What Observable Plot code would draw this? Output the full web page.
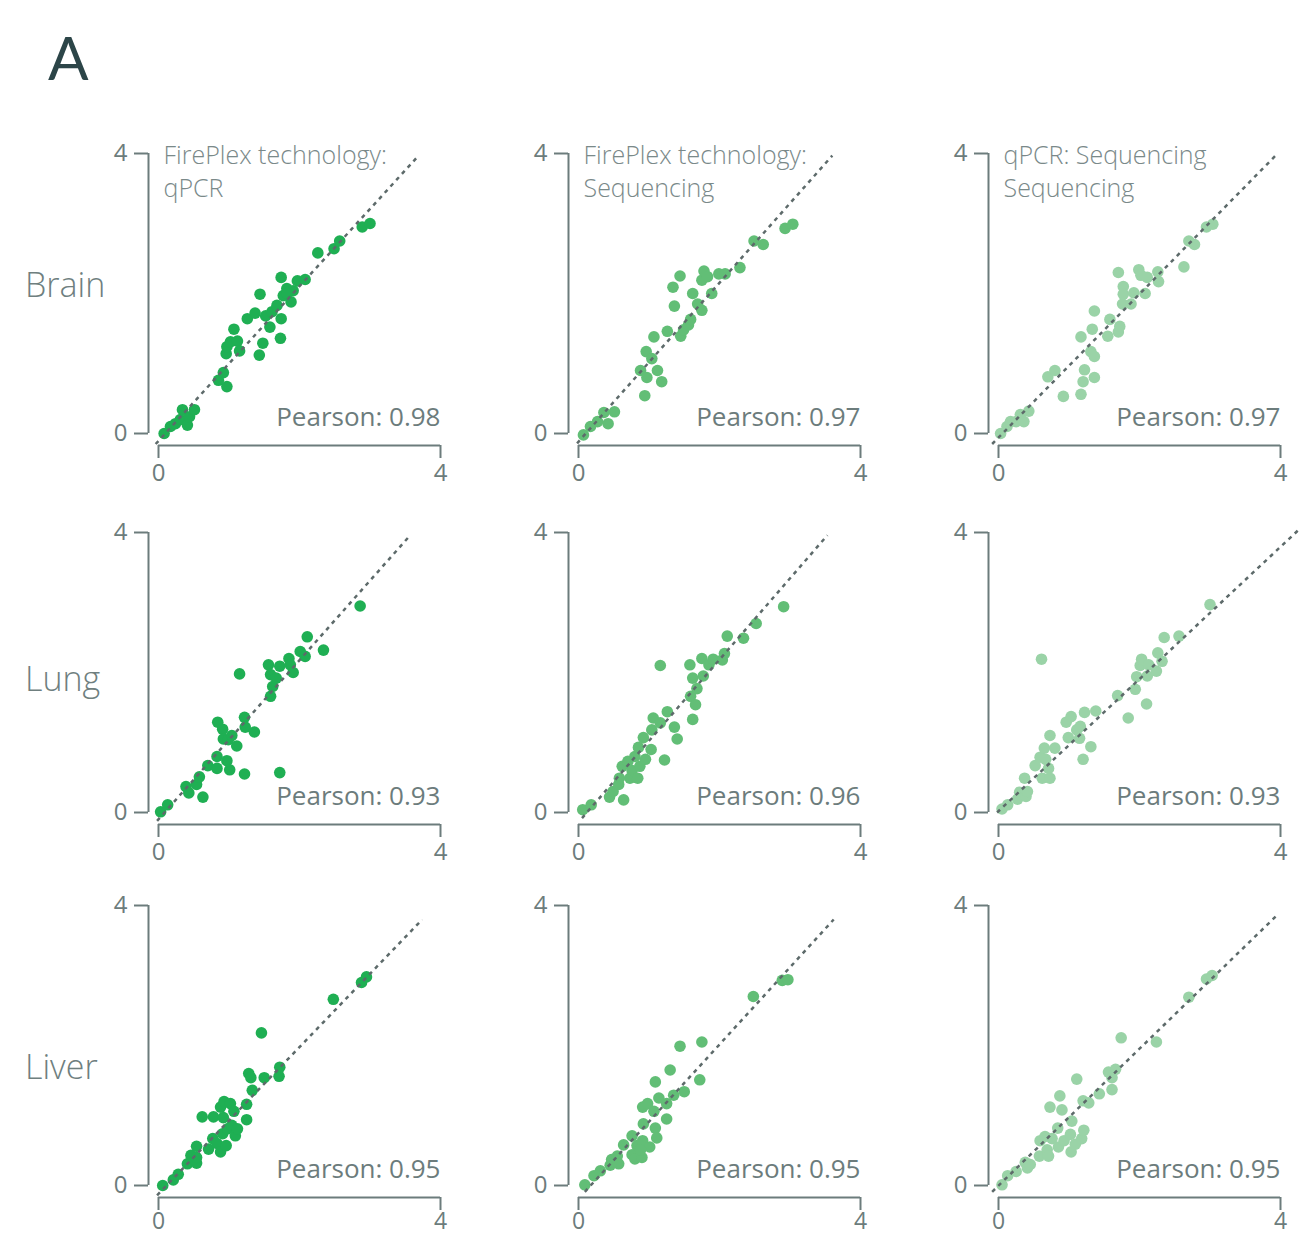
<!DOCTYPE html>
<html><head><meta charset="utf-8">
<script src="https://cdn.jsdelivr.net/npm/d3@7"></script>
<script src="https://cdn.jsdelivr.net/npm/@observablehq/plot@0.6"></script>
<style>
html,body{margin:0;padding:0;background:#fff;overflow:hidden}
#page{position:relative;width:1301px;height:1237px;overflow:hidden;font-family:"Open Sans",Lato,sans-serif}
.panel{position:absolute;width:385px;height:380px}
.panel svg{overflow:visible;max-width:none}
.rowlabel{position:absolute;left:25px;font-size:34px;font-weight:300;color:#6f7f7f;line-height:1;white-space:nowrap}
#letter{position:absolute;left:48px;top:27px;font-size:60px;font-weight:400;color:#2c4548;line-height:1;font-family:Lato,"Open Sans",sans-serif}
</style></head><body><div id="page"><div id="letter">A</div></div>
<script>
// ---------- data ----------
const rowLabels = ["Brain", "Lung", "Liver"];
const colTitles = ["FirePlex technology:\nqPCR", "FirePlex technology:\nSequencing", "qPCR: Sequencing\nSequencing"];
const pearsonValues = [0.98, 0.97, 0.97, 0.93, 0.96, 0.93, 0.95, 0.95, 0.95];
const axisTicks = [0, 4];

const brainFireplexQpcr = [[0.08,0.0],[0.17,0.10],[0.24,0.14],[0.31,0.20],[0.34,0.34],[0.41,0.12],[0.44,0.24],[0.51,0.34],[0.85,0.76],[0.92,0.87],[0.97,0.67],[0.96,1.14],[0.97,1.24],[1.02,1.31],[1.07,1.49],[1.12,1.32],[1.15,1.18],[1.26,1.64],[1.37,1.72],[1.43,1.12],[1.44,1.99],[1.48,1.29],[1.52,1.68],[1.58,1.52],[1.61,1.74],[1.68,1.83],[1.73,1.36],[1.74,1.64],[1.74,2.23],[1.77,1.97],[1.82,2.07],[1.88,1.88],[1.91,2.04],[1.97,2.18],[2.08,2.20],[2.26,2.58],[2.49,2.64],[2.57,2.75],[2.89,2.95],[3.0,3.0],[1.82,2.0]];
const brainFireplexSeq = [[0.07,-0.02],[0.17,0.10],[0.27,0.17],[0.36,0.30],[0.42,0.14],[0.51,0.31],[0.88,0.90],[0.94,0.54],[0.96,1.17],[0.97,0.80],[1.04,1.07],[1.07,1.38],[1.12,0.90],[1.18,0.74],[1.26,1.46],[1.34,2.09],[1.36,1.82],[1.44,2.25],[1.45,1.39],[1.49,1.48],[1.56,1.55],[1.59,1.63],[1.62,2.0],[1.69,1.85],[1.75,1.76],[1.75,2.19],[1.78,2.32],[1.83,2.24],[1.89,2.0],[1.99,2.28],[2.08,2.28],[2.29,2.37],[2.49,2.75],[2.62,2.70],[2.93,2.93],[3.04,2.99]];
const brainQpcrSeq = [[0.03,0.0],[0.12,0.10],[0.17,0.17],[0.25,0.17],[0.31,0.27],[0.36,0.17],[0.43,0.32],[0.70,0.81],[0.80,0.90],[0.92,0.53],[1.17,0.56],[1.20,0.74],[1.22,0.91],[1.17,1.38],[1.31,1.17],[1.33,1.49],[1.36,1.10],[1.36,0.80],[1.36,1.75],[1.55,1.39],[1.58,1.63],[1.70,1.45],[1.72,1.53],[1.70,2.30],[1.76,1.85],[1.77,2.10],[1.77,1.99],[1.88,1.85],[1.92,2.01],[1.99,2.34],[2.02,2.26],[2.08,2.0],[2.11,2.23],[2.26,2.31],[2.27,2.17],[2.63,2.38],[2.70,2.75],[2.78,2.70],[2.95,2.95],[3.04,2.99]];
const lungFireplexQpcr = [[0.03,0.01],[0.13,0.11],[0.39,0.37],[0.43,0.28],[0.54,0.40],[0.58,0.51],[0.63,0.22],[0.70,0.67],[0.83,0.80],[0.83,0.63],[0.97,0.74],[1.01,0.61],[0.84,1.29],[0.91,1.19],[0.92,1.05],[0.99,1.04],[1.04,1.10],[1.11,0.95],[1.22,0.55],[1.15,1.98],[1.22,1.36],[1.23,1.22],[1.36,1.15],[1.56,2.11],[1.59,1.97],[1.59,1.66],[1.62,1.80],[1.67,1.92],[1.72,0.57],[1.72,2.09],[1.85,2.20],[1.87,2.11],[1.91,2.0],[2.01,2.30],[2.08,2.23],[2.11,2.51],[2.34,2.32],[2.86,2.95]];
const lungFireplexSeq = [[0.06,0.04],[0.18,0.11],[0.44,0.22],[0.49,0.30],[0.57,0.40],[0.58,0.49],[0.64,0.18],[0.62,0.66],[0.70,0.73],[0.73,0.49],[0.76,0.60],[0.80,0.80],[0.84,0.49],[0.87,0.66],[0.85,0.93],[0.92,1.07],[0.95,0.76],[1.03,0.90],[1.04,1.18],[1.06,1.35],[1.16,2.10],[1.16,1.28],[1.22,0.75],[1.26,1.44],[1.36,1.22],[1.40,1.05],[1.58,2.11],[1.59,1.66],[1.62,1.92],[1.62,1.33],[1.66,1.54],[1.68,1.77],[1.75,2.20],[1.77,1.95],[1.85,2.11],[1.91,2.19],[2.04,2.18],[2.07,2.27],[2.11,2.52],[2.34,2.49],[2.52,2.70],[2.91,2.94]];
const lungQpcrSeq = [[0.05,0.05],[0.13,0.11],[0.27,0.19],[0.30,0.29],[0.39,0.23],[0.41,0.30],[0.37,0.49],[0.52,0.67],[0.59,0.79],[0.62,0.49],[0.65,0.92],[0.67,0.76],[0.71,0.63],[0.73,0.49],[0.73,1.10],[0.80,0.92],[0.61,2.19],[0.96,1.29],[1.03,1.37],[0.99,1.07],[1.11,1.18],[1.16,1.23],[1.15,1.06],[1.20,0.76],[1.22,1.43],[1.31,0.94],[1.38,1.45],[1.69,1.67],[1.84,1.35],[1.94,1.76],[1.96,1.94],[2.01,2.10],[2.03,2.19],[2.10,1.55],[2.11,1.95],[2.13,2.11],[2.24,2.02],[2.26,2.28],[2.32,2.16],[2.35,2.50],[2.56,2.52],[3.0,2.97]];
const liverFireplexQpcr = [[0.06,0.0],[0.21,0.08],[0.28,0.16],[0.41,0.31],[0.46,0.43],[0.54,0.32],[0.54,0.56],[0.54,0.40],[0.62,0.98],[0.71,0.52],[0.77,0.67],[0.78,0.98],[0.83,0.60],[0.88,0.48],[0.88,1.12],[0.93,1.20],[0.92,0.97],[0.91,0.74],[0.96,0.57],[0.98,0.81],[1.02,1.17],[1.04,0.86],[1.07,1.06],[1.09,0.71],[1.12,0.81],[1.25,1.16],[1.25,0.94],[1.28,1.60],[1.31,1.54],[1.33,1.36],[1.46,2.18],[1.50,1.54],[1.71,1.56],[1.72,1.69],[2.48,2.66],[2.88,2.90],[2.95,2.98]];
const liverFireplexSeq = [[0.09,0.01],[0.22,0.14],[0.31,0.21],[0.45,0.29],[0.47,0.37],[0.55,0.42],[0.57,0.31],[0.64,0.58],[0.76,0.71],[0.76,0.44],[0.80,0.38],[0.83,0.57],[0.90,0.40],[0.91,0.64],[0.92,0.88],[0.91,1.12],[0.98,1.17],[1.01,0.55],[1.07,1.06],[1.09,0.82],[1.11,0.68],[1.09,1.48],[1.14,1.25],[1.25,1.17],[1.25,0.95],[1.30,1.65],[1.35,1.29],[1.44,1.99],[1.50,1.34],[1.72,1.51],[1.75,2.05],[2.48,2.70],[2.89,2.93],[2.97,2.94],[0.88,0.51]];
const liverQpcrSeq = [[0.05,0.01],[0.13,0.14],[0.25,0.20],[0.38,0.33],[0.41,0.25],[0.45,0.30],[0.58,0.42],[0.59,0.64],[0.66,0.70],[0.69,0.51],[0.71,0.42],[0.73,1.12],[0.76,0.67],[0.84,0.82],[0.85,0.55],[0.87,1.28],[0.90,1.08],[0.93,0.64],[1.02,0.73],[1.03,0.48],[1.04,0.92],[1.09,0.59],[1.11,1.52],[1.18,0.67],[1.21,0.79],[1.20,1.21],[1.28,1.18],[1.43,1.31],[1.56,1.62],[1.61,1.54],[1.61,1.37],[1.66,1.66],[1.74,2.11],[2.24,2.05],[2.70,2.69],[2.95,2.95],[3.03,3.0]];

// fitted (dashed) lines: [x1, y1, x2, y2] in data units
const fitLines = [
  [-0.04,-0.15,3.69,3.97], [-0.02,-0.14,3.60,3.97], [-0.09,-0.15,3.93,3.97],
  [-0.02,-0.12,3.57,3.96], [0.05,-0.08,3.53,3.96], [-0.02,0.0,4.27,4.05],
  [-0.02,-0.14,3.74,3.80], [0.09,-0.09,3.62,3.80], [-0.09,-0.09,3.95,3.86]
];
const panelData = [
  brainFireplexQpcr, brainFireplexSeq, brainQpcrSeq,
  lungFireplexQpcr, lungFireplexSeq, lungQpcrSeq,
  liverFireplexQpcr, liverFireplexSeq, liverQpcrSeq
];

// ---------- styles / layout ----------
const colColors = ["#1faf53", "#62be76", "#9ad3a7"];
const axisColor = "#6c7c7c";
const titleColor = "#7a8989";
const fontStack = "'Open Sans', Lato, sans-serif";
const colLeft = [100.3, 520.3, 940.3];
const rowTop = [113.3, 491.7, 865];
const rowLabelTop = [267, 661, 1049];

const page = document.getElementById("page");

rowLabels.forEach((lab, i) => {
  const d = document.createElement("div");
  d.className = "rowlabel";
  d.style.top = rowLabelTop[i] + "px";
  d.textContent = lab;
  page.appendChild(d);
});

function panel(r, c) {
  const k = r * 3 + c;
  const f = fitLines[k];
  const marks = [
    Plot.ruleX([0], {y1: 0, y2: 4, dx: -10, stroke: axisColor, strokeWidth: 2}),
    Plot.ruleY([0], {x1: 0, x2: 4, dy: 12, stroke: axisColor, strokeWidth: 2}),
    Plot.axisX({ticks: axisTicks, tickSize: 13, tickPadding: r === 2 ? 2 : 5, fontSize: r === 2 ? 23 : 24, strokeWidth: 2, label: null, tickFormat: d => String(d)}),
    Plot.axisY({ticks: axisTicks, tickSize: 14, tickPadding: 7, fontSize: 24, strokeWidth: 2, label: null, tickFormat: d => String(d)}),
    Plot.dot(panelData[k], {x: d => d[0], y: d => d[1], r: 5.8, fill: colColors[c], stroke: "none"}),
    Plot.link([f], {x1: d => d[0], y1: d => d[1], x2: d => d[2], y2: d => d[3], stroke: "#5d6a6a", strokeWidth: 2.5, strokeDasharray: "4,4.5"}),
    Plot.text([`Pearson: ${pearsonValues[k].toFixed(2)}`], {frameAnchor: "bottom-right", lineAnchor: "bottom", dy: -20, fontSize: 26, fill: axisColor, textAnchor: "end"})
  ];
  if (r === 0) {
    marks.push(Plot.text([colTitles[c]], {frameAnchor: "top-left", lineAnchor: "top", dx: 15, dy: -13, fontSize: 25, fontWeight: 300, lineHeight: 1.32, fill: titleColor, textAnchor: "start"}));
  }
  const svg = Plot.plot({
    width: 385, height: 380,
    marginLeft: 48, marginRight: 45, marginTop: 40, marginBottom: 48,
    insetLeft: 10, insetBottom: 12, insetTop: 0, insetRight: 0,
    x: {domain: [0, 4]},
    y: {domain: [0, 4]},
    style: {fontFamily: fontStack, color: axisColor, background: "transparent", overflow: "visible", maxWidth: "none"},
    marks
  });
  const wrap = document.createElement("div");
  wrap.className = "panel";
  wrap.style.left = colLeft[c] + "px";
  wrap.style.top = rowTop[r] + "px";
  wrap.appendChild(svg);
  page.appendChild(wrap);
}

for (let r = 0; r < 3; r++) for (let c = 0; c < 3; c++) panel(r, c);
</script>
</body></html>
